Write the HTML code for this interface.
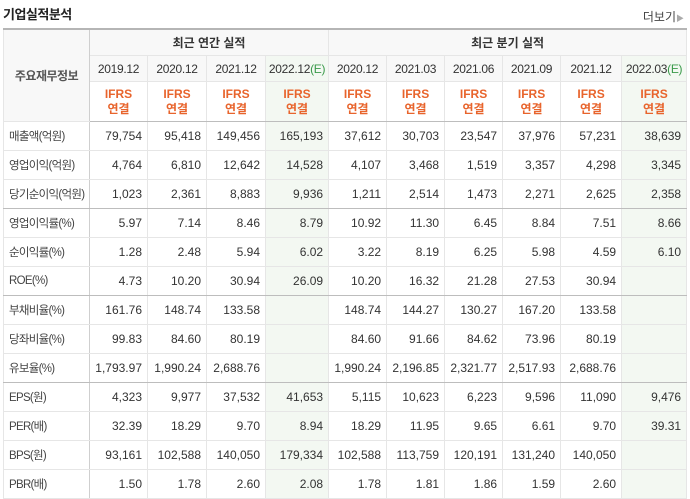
<!DOCTYPE html>
<html><head><meta charset="utf-8">
<style>
body{margin:0;width:690px;height:494px;overflow:hidden;background:#fff;font-family:"Liberation Sans","Noto Sans CJK KR",sans-serif;color:#333;position:relative}
.title{position:absolute;left:3px;top:4px;font-size:13px;font-weight:bold;color:#222;letter-spacing:-0.5px}
.more{position:absolute;right:6px;top:8px;font-size:12px;color:#444}
.more span{color:#aaa;font-size:8px}
table{position:absolute;left:3px;top:28px;border-collapse:collapse;table-layout:fixed;width:683px;font-size:12px}
td,th{border:1px solid #e6e6e6;padding:0;overflow:hidden;white-space:nowrap}
table{border-top:2px solid #b5b5b5}
th{font-weight:normal;background:#f8f8f8;text-align:center;color:#333}
th.grp{font-weight:bold;height:25px}
th.dt{height:25px;letter-spacing:-0.3px}
th.ifrs{height:39px;color:#e8642c;font-weight:bold;line-height:15px;background:#fff}
th.lbl{background:#f8f8f8;font-weight:bold;color:#555;font-size:12px;letter-spacing:-0.5px}
tr.hlast th{border-bottom:1px solid #bdbdbd}
td{height:28px;text-align:right;padding-right:5px;color:#333}
td.lbl{text-align:left;padding-left:5px;padding-right:0;color:#444;border-right:1px solid #cfcfcf;font-size:11.5px;letter-spacing:-0.7px}
th.lbl{border-right:1px solid #cfcfcf}
.est{background:#f3f8f2!important}
.e{color:#3a9a4a}
tr.sep td{border-bottom:1px solid #bdbdbd}
</style></head><body>
<div class="title">기업실적분석</div>
<div class="more">더보기<span>▶</span></div>
<table>
<colgroup><col style="width:86px"><col style="width:58px"><col style="width:59px"><col style="width:59px"><col style="width:63px"><col style="width:58px"><col style="width:58px"><col style="width:58px"><col style="width:58px"><col style="width:61px"><col style="width:65px"></colgroup>
<tr><th class="lbl" rowspan="3">주요재무정보</th><th class="grp" colspan="4">최근 연간 실적</th><th class="grp" colspan="6">최근 분기 실적</th></tr>
<tr id="dates"></tr>
<tr id="ifrs" class="hlast"></tr>
<tbody id="body"></tbody>
</table>
<script>
const periods=["2019.12","2020.12","2021.12","2022.12","2020.12","2021.03","2021.06","2021.09","2021.12","2022.03"];
const estimate=[false,false,false,true,false,false,false,false,false,true];
const rowLabels=["매출액(억원)","영업이익(억원)","당기순이익(억원)","영업이익률(%)","순이익률(%)","ROE(%)","부채비율(%)","당좌비율(%)","유보율(%)","EPS(원)","PER(배)","BPS(원)","PBR(배)"];
const rowValues=[
["79,754","95,418","149,456","165,193","37,612","30,703","23,547","37,976","57,231","38,639"],
["4,764","6,810","12,642","14,528","4,107","3,468","1,519","3,357","4,298","3,345"],
["1,023","2,361","8,883","9,936","1,211","2,514","1,473","2,271","2,625","2,358"],
["5.97","7.14","8.46","8.79","10.92","11.30","6.45","8.84","7.51","8.66"],
["1.28","2.48","5.94","6.02","3.22","8.19","6.25","5.98","4.59","6.10"],
["4.73","10.20","30.94","26.09","10.20","16.32","21.28","27.53","30.94",""],
["161.76","148.74","133.58","","148.74","144.27","130.27","167.20","133.58",""],
["99.83","84.60","80.19","","84.60","91.66","84.62","73.96","80.19",""],
["1,793.97","1,990.24","2,688.76","","1,990.24","2,196.85","2,321.77","2,517.93","2,688.76",""],
["4,323","9,977","37,532","41,653","5,115","10,623","6,223","9,596","11,090","9,476"],
["32.39","18.29","9.70","8.94","18.29","11.95","9.65","6.61","9.70","39.31"],
["93,161","102,588","140,050","179,334","102,588","113,759","120,191","131,240","140,050",""],
["1.50","1.78","2.60","2.08","1.78","1.81","1.86","1.59","2.60",""]];
const sepAfter=[2,5,8];
const dr=document.getElementById('dates'),ir=document.getElementById('ifrs'),tb=document.getElementById('body');
periods.forEach((p,i)=>{
 const th=document.createElement('th');th.className='dt'+(estimate[i]?' est':'');
 
 
 th.innerHTML=p+(estimate[i]?'<span class="e">(E)</span>':'');dr.appendChild(th);
 const t2=document.createElement('th');t2.className='ifrs'+(estimate[i]?' est':'');
 
 
 t2.innerHTML='IFRS<br>연결';ir.appendChild(t2);
});
rowLabels.forEach((l,r)=>{
 const tr=document.createElement('tr');if(sepAfter.includes(r))tr.className='sep';
 
 
 const td=document.createElement('td');td.className='lbl';td.textContent=l;
 
 
 tr.appendChild(td);
 rowValues[r].forEach((v,i)=>{const c=document.createElement('td');if(estimate[i])c.className='est';c.textContent=v;
  
  
  tr.appendChild(c);});
 tb.appendChild(tr);
});
</script>
</body></html>
